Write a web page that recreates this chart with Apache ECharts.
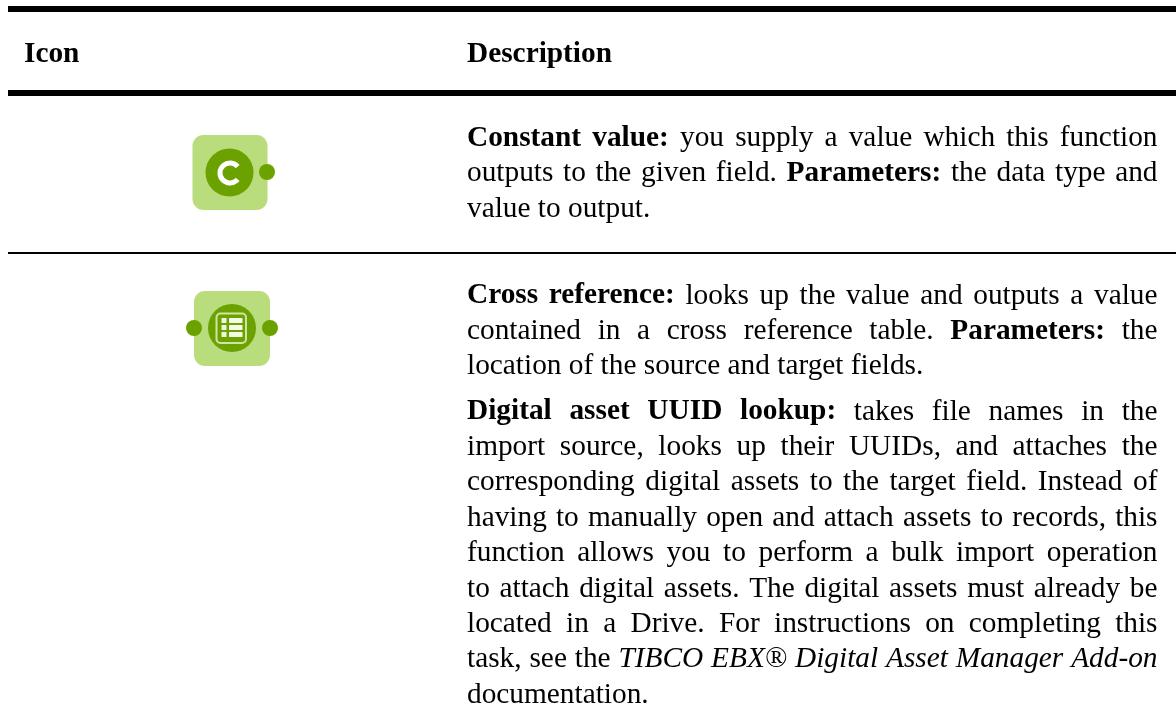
<!DOCTYPE html>
<html><head><meta charset="utf-8">
<style>html,body{margin:0;padding:0;background:#fff}#c{width:1176px;height:727px}</style>
<script src="https://cdn.jsdelivr.net/npm/echarts@6/dist/echarts.min.js"></script>
</head><body><div id="c"></div>
<script>
const headers = ['Icon', 'Description'];
// b = bold, i = italic, n = normal; last line of each paragraph is not justified
const para1 = [
  [['b','Constant value:'],['n','you supply a value which this function']],
  [['n','outputs to the given field.'],['b','Parameters:'],['n','the data type and']],
  [['n','value to output.']]
];
const para2 = [
  [['b','Cross reference:'],['n','looks up the value and outputs a value']],
  [['n','contained in a cross reference table.'],['b','Parameters:'],['n','the']],
  [['n','location of the source and target fields.']]
];
const para3 = [
  [['b','Digital asset UUID lookup:'],['n','takes file names in the']],
  [['n','import source, looks up their UUIDs, and attaches the']],
  [['n','corresponding digital assets to the target field. Instead of']],
  [['n','having to manually open and attach assets to records, this']],
  [['n','function allows you to perform a bulk import operation']],
  [['n','to attach digital assets. The digital assets must already be']],
  [['n','located in a Drive. For instructions on completing this']],
  [['n','task, see the'],['i','TIBCO EBX® Digital Asset Manager Add-on']],
  [['n','documentation.']]
];
const FS = 29.33, FAM = '"Liberation Serif"', STEP = 35.4;
const X0 = 467, X1 = 1157.5;
const fonts = {b:`bold ${FS}px ${FAM}`, i:`italic ${FS}px ${FAM}`, n:`${FS}px ${FAM}`};
const INK = '#000';
const LIGHT = '#B9DC7C', DARK = '#6BA200';
const ctx = document.createElement('canvas').getContext('2d');
function measure(w, s){ ctx.font = fonts[s]; return ctx.measureText(w).width; }
ctx.font = fonts.n;
ctx.textBaseline = 'alphabetic';
const aAsc = ctx.measureText('x').fontBoundingBoxAscent;
ctx.textBaseline = 'middle';
const mAsc = ctx.measureText('x').fontBoundingBoxAscent;
ctx.textBaseline = 'alphabetic';
const MID = aAsc - mAsc;
const els = [];
function word(x, base, t, s){
  els.push({type:'text', x, y:base - MID, silent:true, style:{text:t, font:fonts[s], fill:INK, verticalAlign:'middle', align:'left'}});
}
function layout(lines, y0){
  lines.forEach((ln, i) => {
    const words = [];
    ln.forEach(([s, t]) => t.split(' ').forEach(w => words.push([w, s])));
    const total = words.reduce((a, [w, s]) => a + measure(w, s), 0);
    const last = i === lines.length - 1;
    const gap = last ? measure(' ', 'n') : (X1 - X0 - total) / (words.length - 1);
    let x = X0;
    const y = y0 + i * STEP;
    words.forEach(([w, s]) => { word(x, y, w, s); x += measure(w, s) + gap; });
  });
}
function rule(y, h){ els.push({type:'rect', silent:true, shape:{x:8, y, width:1168, height:h}, style:{fill:'#000'}}); }
rule(6, 6); rule(90, 6); rule(252, 2);
word(24, 62, headers[0], 'b');
word(467, 62, headers[1], 'b');
layout(para1, 146);
layout(para2, 303.5);
layout(para3, 419.5);

const C = (cx, cy, r, fill) => els.push({type:'circle', silent:true, shape:{cx, cy, r}, style:{fill}});
const R = (x, y, w, h, r, style) => els.push({type:'rect', silent:true, shape:{x, y, width:w, height:h, r}, style});
// icon 1
R(192.5, 135, 75, 75, 11, {fill:LIGHT});
C(229.5, 172.5, 24, DARK);
C(267, 172, 8, DARK);
els.push({type:'arc', silent:true, shape:{cx:230, cy:173, r:10, startAngle:-0.7, endAngle:0.7, clockwise:false}, style:{fill:null, stroke:'#fff', lineWidth:5}});
// icon 2
R(194, 291, 76, 75, 11, {fill:LIGHT});
C(232, 328, 24, DARK);
C(194, 328, 8, DARK);
C(270, 328, 8, DARK);
R(216.5, 313.5, 29.5, 29.5, 4, {fill:null, stroke:'#CFE4A6', lineWidth:2});
[318, 325, 332].forEach(y => {
  R(221.5, y, 5, 5, 0.5, {fill:'#EEF6DF'});
  R(229, y, 13.5, 5, 0.5, {fill:'#F4F9EA'});
});

const chart = echarts.init(document.getElementById('c'), null, {renderer:'canvas', width:1176, height:727});
chart.setOption({animation:false, backgroundColor:'#fff', graphic:{elements:els}});
</script></body></html>
